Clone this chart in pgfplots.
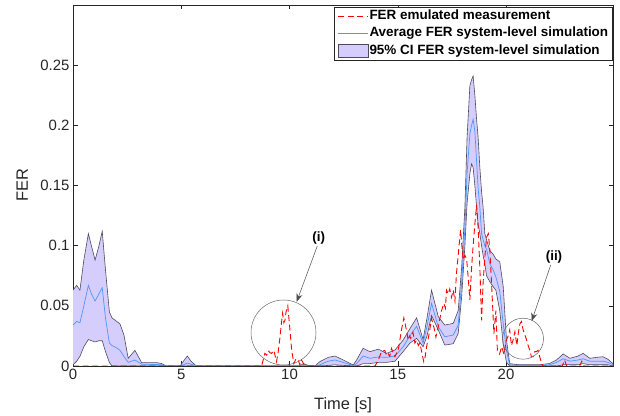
\documentclass[border=0pt]{standalone}
\usepackage{fontspec}
\setmainfont{Liberation Sans}
\usepackage{pgfplots}
\pgfplotsset{compat=1.18}
\usepackage{pgfplotstable}
\usepgfplotslibrary{fillbetween}
\usetikzlibrary{arrows.meta}
\definecolor{bandfill}{RGB}{213,205,252}
\definecolor{bandedge}{RGB}{75,75,95}
\definecolor{meanblue}{RGB}{77,150,255}
\definecolor{axgray}{RGB}{38,38,38}

\pgfplotstableread{
t lo mean hi
0.00 0.001 0.034 0.063
0.17 0.004 0.037 0.067
0.32 0.008 0.036 0.063
0.50 0.016 0.050 0.088
0.71 0.022 0.067 0.110
0.85 0.021 0.060 0.100
1.02 0.020 0.054 0.088
1.20 0.021 0.060 0.100
1.35 0.021 0.065 0.112
1.50 0.012 0.040 0.080
1.68 0.003 0.019 0.045
1.80 0.000 0.017 0.040
2.02 0.000 0.015 0.037
2.17 0.000 0.013 0.035
2.35 0.000 0.008 0.026
2.55 0.000 0.003 0.0064
2.86 0.000 0.005 0.013
3.17 0.000 0.0015 0.0028
3.86 0.000 0.0012 0.0028
4.10 0.000 0.001 0.002
4.30 0 0 0
4.95 0 0 0
5.10 0 0.001 0.004
5.28 0 0.0025 0.0083
5.45 0 0.0015 0.004
5.70 0 0 0
10.45 0 0 0
10.65 0 0.001 0.002
10.85 0 0 0.0005
11.20 0 0 0.0005
11.40 0 0.001 0.0036
11.79 0.0005 0.004 0.0072
12.10 0.001 0.005 0.0083
12.48 0.0005 0.003 0.005
12.94 0 0.0003 0.0008
13.10 0 0.002 0.005
13.40 0.002 0.0083 0.0147
13.71 0.002 0.0064 0.0119
14.10 0.003 0.0075 0.014
14.48 0.003 0.0072 0.0105
14.87 0.004 0.0083 0.0133
15.25 0.012 0.016 0.0216
15.56 0.019 0.025 0.031
15.87 0.023 0.033 0.040
16.17 0.016 0.019 0.022
16.35 0.025 0.033 0.040
16.56 0.042 0.052 0.063
16.87 0.030 0.0326 0.041
17.17 0.0174 0.0243 0.034
17.56 0.0185 0.0257 0.0354
17.79 0.027 0.034 0.046
17.95 0.0575 0.069 0.082
18.10 0.100 0.115 0.132
18.20 0.135 0.160 0.190
18.33 0.160 0.193 0.233
18.41 0.168 0.200 0.238
18.48 0.165 0.205 0.241
18.56 0.150 0.195 0.225
18.64 0.132 0.170 0.205
18.71 0.118 0.148 0.190
18.79 0.110 0.132 0.165
18.87 0.100 0.110 0.145
18.94 0.092 0.105 0.132
19.02 0.085 0.100 0.110
19.10 0.075 0.097 0.105
19.25 0.070 0.085 0.096
19.40 0.066 0.080 0.093
19.53 0.063 0.074 0.089
19.71 0.046 0.062 0.0865
19.87 0.018 0.035 0.066
20.02 0.003 0.013 0.0216
20.17 0 0.001 0.002
20.50 0 0.0005 0.0012
21.50 0 0.0005 0.001
22.00 0 0.001 0.002
22.33 0 0.003 0.005
22.64 0.001 0.006 0.010
22.95 0.001 0.004 0.0064
23.33 0.001 0.005 0.0083
23.56 0.002 0.006 0.0105
23.87 0.001 0.004 0.0064
24.18 0.001 0.004 0.0072
24.48 0.001 0.004 0.0077
24.71 0.001 0.003 0.0055
24.94 0 0.001 0.002
}\band

\pgfplotstableread{
t v
0 0
8.65 0
8.71 0
8.80 0.006
8.86 0.0105
8.95 0.009
9.02 0.0127
9.10 0.011
9.17 0.0105
9.28 0.013
9.34 0.008
9.40 0.0036
9.48 0.012
9.56 0.024
9.63 0.036
9.68 0.0437
9.74 0.036
9.79 0.038
9.84 0.045
9.92 0.050
9.97 0.040
10.02 0.030
10.10 0.013
10.20 0.002
10.30 0.006
10.40 0.005
10.48 0.001
10.55 0.005
10.62 0.003
10.70 0
13.95 0
14.10 0.005
14.25 0.012
14.40 0.013
14.48 0.009
14.55 0.0105
14.63 0.008
14.71 0.0147
14.80 0.010
14.87 0.0077
14.95 0.011
15.02 0.013
15.10 0.022
15.17 0.030
15.28 0.040
15.34 0.035
15.40 0.030
15.48 0.0216
15.55 0.025
15.60 0.023
15.70 0.028
15.79 0.019
15.87 0.0216
15.95 0.017
16.02 0.019
16.10 0.012
16.20 0.0036
16.27 0.008
16.33 0.016
16.45 0.027
16.56 0.0395
16.62 0.035
16.70 0.030
16.76 0.024
16.87 0.0326
16.95 0.040
17.02 0.046
17.13 0.052
17.20 0.048
17.25 0.063
17.33 0.060
17.40 0.064
17.48 0.057
17.56 0.063
17.64 0.054
17.71 0.077
17.78 0.090
17.84 0.102
17.90 0.113
17.96 0.100
18.02 0.088
18.10 0.092
18.18 0.089
18.25 0.074
18.33 0.055
18.41 0.082
18.48 0.100
18.56 0.118
18.64 0.134
18.71 0.115
18.79 0.082
18.87 0.038
18.94 0.069
19.02 0.090
19.10 0.107
19.18 0.110
19.25 0.097
19.33 0.069
19.44 0.027
19.53 0.046
19.60 0.013
19.70 0.010
19.80 0.016
19.90 0.010
20.02 0.0216
20.10 0.025
20.17 0.030
20.25 0.017
20.33 0.022
20.41 0.0285
20.50 0.017
20.57 0.028
20.64 0.035
20.71 0.037
20.79 0.030
20.87 0.026
20.95 0.0216
21.02 0.017
21.10 0.013
21.17 0.0077
21.25 0.0077
21.33 0.012
21.40 0.012
21.48 0.013
21.55 0.008
21.63 0.003
21.70 0
22.60 0
22.70 0.005
22.80 0
23.40 0
23.50 0.004
23.60 0
24.94 0
}\red

\begin{document}
\begin{tikzpicture}
\begin{axis}[
  at={(0,0)}, anchor=south west,
  scale only axis, width=540bp, height=361bp,
  xmin=0, xmax=24.94, ymin=0, ymax=0.3,
  xtick={0,5,10,15,20},
  ytick={0,0.05,0.1,0.15,0.2,0.25},
  scaled ticks=false,
  tick label style={font=\fontsize{15}{18}\selectfont, color=axgray},
  /pgf/number format/assume math mode=true,
  y tick label style={/pgf/number format/.cd, fixed, precision=2},
  axis line style={color=axgray, line width=0.6bp},
  major tick style={color=axgray, line width=0.5bp},
  major tick length=4.5bp,
  minor tick num=0,
  legend style={at={(rel axis cs:1,0.9953)}, anchor=north east,
    draw=axgray, line width=0.6bp, fill=white,
    font=\fontsize{13.5}{16}\selectfont\bfseries,
    inner xsep=3.5bp, inner ysep=1.5bp, row sep=2.5bp,
    nodes={inner sep=1bp, text height=10bp, text depth=3bp}},
  legend cell align=left,
]
\addlegendimage{legend image code/.code={\draw[draw=red, line width=0.9bp, dash pattern=on 6bp off 3.5bp] (0bp,0bp) -- (30bp,0bp);}}
\addlegendentry{FER emulated measurement}
\addlegendimage{legend image code/.code={\draw[draw=meanblue, line width=1bp] (0bp,0bp) -- (30bp,0bp);}}
\addlegendentry{Average FER system-level simulation}
\addlegendimage{legend image code/.code={\draw[fill=bandfill, draw=bandedge, line width=0.5bp] (0bp,-6.5bp) rectangle (30bp,6.5bp);}}
\addlegendentry{95\% CI FER system-level simulation}

\addplot[draw=none, name path=hi, forget plot] table[x=t, y=hi] {\band};
\addplot[draw=none, name path=lo, forget plot] table[x=t, y=lo] {\band};
\addplot[fill=bandfill, draw=none, forget plot] fill between[of=hi and lo];
\addplot[bandedge, line width=0.6bp, forget plot] table[x=t, y=hi] {\band};
\addplot[bandedge, line width=0.6bp, forget plot] table[x=t, y=lo] {\band};
\addplot[meanblue, line width=0.7bp, forget plot] table[x=t, y=mean] {\band};
\addplot[red, line width=0.9bp, dash pattern=on 6bp off 3.5bp, forget plot] table[x=t, y=v] {\red};
\end{axis}
% axis labels
\node[rotate=90, anchor=base, inner sep=0pt, font=\fontsize{16.5}{19}\selectfont, text=axgray] at (-45bp,180.5bp) {FER};
\node[anchor=base, inner sep=0pt, font=\fontsize{16.5}{19}\selectfont, text=axgray] at (270bp,-43.5bp) {Time [s]};
% annotations
\draw[black!60, line width=0.5bp] (210.5bp,33.5bp) circle[radius=32.5bp];
\draw[black!60, line width=0.5bp] (450bp,27.3bp) circle[radius=20.5bp];
\draw[black!70, line width=0.5bp, -{Stealth[length=8bp,width=6bp]}] (244.3bp,120bp) -- (223.7bp,64.3bp);
\draw[black!70, line width=0.5bp, -{Stealth[length=8bp,width=6bp]}] (477.7bp,101bp) -- (458.7bp,45bp);
\node[font=\fontsize{13.5}{16}\selectfont\bfseries] at (245.8bp,127.7bp) {(i)};
\node[font=\fontsize{13.5}{16}\selectfont\bfseries] at (481bp,108.5bp) {(ii)};
\pgfresetboundingbox
\path[use as bounding box] (-73bp,-50bp) rectangle (547bp,366bp);
\end{tikzpicture}
\end{document}
